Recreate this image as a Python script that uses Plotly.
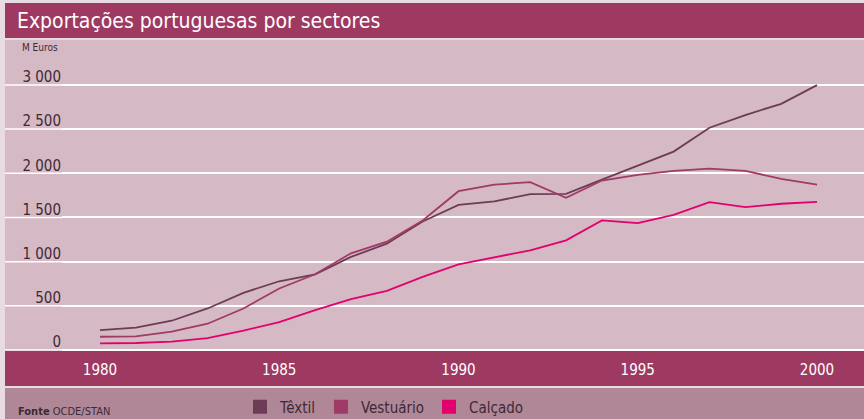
import plotly.graph_objects as go

# dados (M Euros)
anos = list(range(1980, 2001))
textil = [226, 252, 331, 470, 647, 778, 857, 1053, 1203, 1455, 1643,
          1681, 1763, 1767, 1929, 2087, 2245, 2515, 2659, 2786, 2997]
vestuario = [150, 154, 207, 297, 470, 696, 857, 1094, 1226, 1466, 1797,
             1872, 1899, 1722, 1918, 1982, 2027, 2053, 2027, 1937, 1872]
calcado = [74, 79, 94, 135, 218, 316, 451, 575, 669, 827, 970,
           1046, 1128, 1241, 1466, 1436, 1530, 1673, 1617, 1655, 1677]

y_ticks = [0, 500, 1000, 1500, 2000, 2500, 3000]
y_labels = ["0", "500", "1 000", "1 500", "2 000", "2 500", "3 000"]
x_ticks = [1980, 1985, 1990, 1995, 2000]

W, H = 864, 419
L, T, B = 62, 40, 69
PW, PH = W - L, H - T - B

COR_FUNDO = "#e8dbe2"
COR_AREA = "#d5b9c4"
COR_BANDA = "#9e3962"
COR_LEGENDA = "#b08797"
COR_TEXTO = "#3d2a35"
FONTE = "Liberation Sans Narrow, DejaVu Sans Condensed, Arial Narrow, sans-serif"

def px_x(p):
    return (p - L) / PW

def px_y(p):
    return (H - B - p) / PH

series = [("Têxtil", textil, "#6e3b56"),
          ("Vestuário", vestuario, "#a03a66"),
          ("Calçado", calcado, "#e2006c")]

fig = go.Figure()
for nome, vals, cor in series:
    fig.add_trace(go.Scatter(x=anos, y=vals, mode="lines", name=nome,
                             line=dict(color=cor, width=1.8), showlegend=False))
# entradas da legenda (quadrados)
for nome, vals, cor in series:
    fig.add_trace(go.Scatter(x=[None], y=[None], mode="markers", name=nome,
                             marker=dict(symbol="square", size=14, color=cor)))

shapes = [
    # faixa do título
    dict(type="rect", xref="paper", yref="paper", x0=px_x(5), x1=px_x(W),
         y0=px_y(38), y1=px_y(3), fillcolor=COR_BANDA, line_width=0, layer="below"),
    # extensão da área do gráfico à esquerda
    dict(type="rect", xref="paper", yref="paper", x0=px_x(5), x1=0,
         y0=0, y1=1, fillcolor=COR_AREA, line_width=0, layer="below"),
    # faixa do eixo x
    dict(type="rect", xref="paper", yref="paper", x0=px_x(5), x1=px_x(W),
         y0=px_y(386), y1=px_y(351), fillcolor=COR_BANDA, line_width=0, layer="below"),
    # faixa da legenda
    dict(type="rect", xref="paper", yref="paper", x0=px_x(5), x1=px_x(W),
         y0=px_y(H), y1=px_y(388), fillcolor=COR_LEGENDA, line_width=0, layer="below"),
]
# linhas de grelha prolongadas até à margem esquerda
for v in y_ticks:
    shapes.append(dict(type="line", xref="paper", yref="y", x0=px_x(5), x1=0,
                       y0=v, y1=v, line=dict(color="white", width=1.5), layer="below"))

fig.update_layout(
    width=W, height=H,
    margin=dict(l=L, r=0, t=T, b=B, autoexpand=False),
    paper_bgcolor=COR_FUNDO,
    plot_bgcolor=COR_AREA,
    font=dict(family=FONTE, color=COR_TEXTO),
    shapes=shapes,
    xaxis=dict(range=[1978.94, 2001.31], tickvals=x_ticks, ticks="outside",
               ticklen=6, tickcolor="rgba(0,0,0,0)", showgrid=False,
               zeroline=False, showline=False, automargin=False,
               tickfont=dict(size=15, color="white", family=FONTE)),
    yaxis=dict(range=[0, 3508], tickvals=y_ticks, ticktext=y_labels,
               showgrid=True, gridcolor="white", gridwidth=1.5,
               zeroline=True, zerolinecolor="white", zerolinewidth=1.5,
               ticks="", ticklabelstandoff=0, ticklabelshift=-8, automargin=False,
               tickfont=dict(size=15, color=COR_TEXTO, family=FONTE)),
    legend=dict(orientation="h", xref="container", yref="container",
                x=240 / W, y=1 - 407 / H, xanchor="left", yanchor="middle",
                bgcolor="rgba(0,0,0,0)",
                font=dict(size=15, color=COR_TEXTO, family=FONTE),
                itemwidth=30, tracegroupgap=0),
    annotations=[
        dict(text="Exportações portuguesas por sectores", xref="paper", yref="paper",
             x=px_x(15), y=px_y(21), xanchor="left", yanchor="middle",
             showarrow=False, font=dict(size=21, color="white", family=FONTE)),
        dict(text="M Euros", xref="paper", yref="paper",
             x=px_x(20), y=px_y(47), xanchor="left", yanchor="middle",
             showarrow=False, font=dict(size=10, color=COR_TEXTO, family=FONTE)),
        dict(text="<b>Fonte</b> OCDE/STAN", xref="paper", yref="paper",
             x=px_x(16), y=px_y(411), xanchor="left", yanchor="middle",
             showarrow=False, font=dict(size=11, color=COR_TEXTO, family=FONTE)),
    ],
)

# sem margem da página, para a figura ocupar a janela toda
fig.write_html("out.html", config={"displayModeBar": False},
               post_script="document.body.style.margin = '0';")
